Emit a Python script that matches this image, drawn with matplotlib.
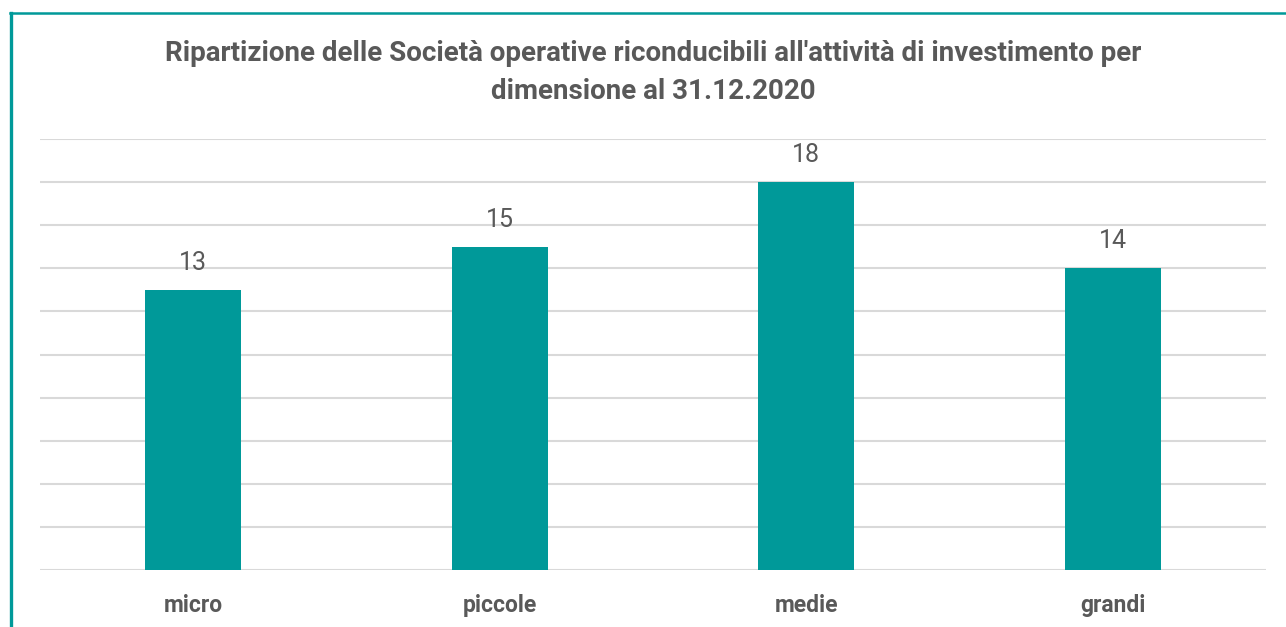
import matplotlib
matplotlib.use("Agg")
import matplotlib.pyplot as plt
from matplotlib.lines import Line2D

# dati
categorie = ["micro", "piccole", "medie", "grandi"]
valori = [13, 15, 18, 14]
titolo = ("Ripartizione delle Società operative riconducibili all'attività di investimento per\n"
          "dimensione al 31.12.2020")

teal = "#009999"
grigio = "#595959"

plt.rcParams['font.family'] = ['Liberation Sans Narrow', 'Roboto', 'DejaVu Sans']

fig = plt.figure(figsize=(12.86, 6.27), dpi=100)
ax = fig.add_axes([40/1286, 1 - 570/627, 1226/1286, 431/627])

x = range(len(categorie))
ax.bar(x, valori, width=0.313, color=teal, zorder=3)
for xi, v in zip(x, valori):
    ax.text(xi, v + 1.25, str(v), ha="center", va="center", fontsize=18, color=grigio)

ax.set_ylim(0, 20)
ax.set_xlim(-0.5, len(categorie) - 0.5)
ax.set_yticks(range(0, 21, 2))
ax.yaxis.grid(True, color="#d9d9d9", linewidth=1.5, zorder=0)
ax.tick_params(axis="y", left=False, labelleft=False)
ax.tick_params(axis="x", bottom=False, pad=14)
ax.set_xticks(list(x))
ax.set_xticklabels(categorie, fontsize=16.5, fontweight="bold", color=grigio)
for s in ax.spines.values():
    s.set_visible(False)

fig.text(0.508, 1 - 72.5/627, titolo, ha="center", va="center", fontsize=20,
         fontweight="bold", color=grigio, linespacing=1.5)

# bordo a sinistra e in alto
fig.add_artist(Line2D([10.5/1286, 10.5/1286], [0, 1 - 12.5/627], color=teal, linewidth=2.4,
                      transform=fig.transFigure))
fig.add_artist(Line2D([9.5/1286, 1], [1 - 12.5/627, 1 - 12.5/627], color=teal, linewidth=1.8,
                      transform=fig.transFigure))

fig.savefig("out.png", dpi=100)
